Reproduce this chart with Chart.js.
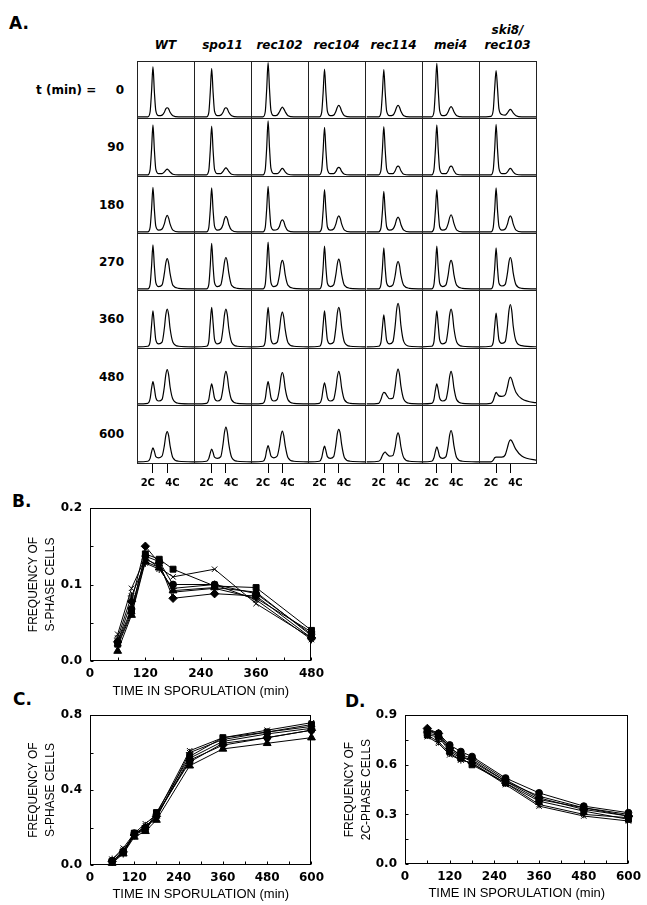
<!DOCTYPE html>
<html>
<head>
<meta charset="utf-8">
<title>DNA content profiles during sporulation</title>
<script src="https://cdn.jsdelivr.net/npm/chart.js@4.4.1/dist/chart.umd.min.js"></script>
<style>
html,body{margin:0;padding:0;background:#fff;}
body{position:relative;width:647px;height:905px;overflow:hidden;font-family:"DejaVu Sans",sans-serif;color:#000;}
canvas{position:absolute;}
.t{position:absolute;white-space:pre;}
.panel{font:bold 17px/20px "DejaVu Sans";}
.hdr{font:italic bold 12px/15px "DejaVu Sans";text-align:center;width:90px;}
.rowlab{font:bold 12px/14px "DejaVu Sans";text-align:right;width:60px;}
.gl{position:absolute;background:#222;}
</style>
</head>
<body>
<script>
// ---------------- DATA ----------------
const STRAINS = ['WT','spo11','rec102','rec104','rec114','mei4','ski8/rec103'];
const TIMES_A = [0,90,180,270,360,480,600];
const CC_LABELS = ['2C','4C'];
// channel (0-100 across a cell) of the 2C peak for each strain; 4C peak sits PEAK_GAP further
const PEAK_2C = [28,31,30,29,33,26,30];
const PEAK_GAP = 25;
// sample channels relative to the 2C peak
const CHANNEL_OFFSETS = [-30,-9,-5,-2.5,0,2.5,5,10,16,20,22.5,25,27.5,30,35,45,75];

// cell counts (% of cell height) per strain, one array per time point
const HIST_T0 = [
  [2,2,11,46,90,46,13,4,5,10,16,18,16,10,4,2,2],
  [2,2,10,45,87,45,12,4,5,10,16,18,16,10,4,2,2],
  [2,2,11,50,97,50,13,4,5,11,16,19,16,11,4,2,2],
  [2,2,10,44,86,44,12,4,5,12,19,22,19,12,4,2,2],
  [2,2,10,44,85,44,12,4,5,12,19,22,19,12,4,2,2],
  [2,2,11,49,96,49,13,4,5,11,17,20,17,11,4,2,2],
  [2,3,14,52,83,52,16,6,5,9,13,15,13,9,4,2,2]
];
const HIST_T90 = [
  [2,2,11,45,88,45,12,4,4,7,10,12,10,7,3,2,2],
  [2,2,10,44,86,44,12,4,4,8,12,14,12,8,3,2,2],
  [2,2,11,48,95,48,13,4,4,7,11,13,11,7,3,2,2],
  [2,2,10,43,84,43,12,4,4,8,13,15,13,8,3,2,2],
  [2,2,10,44,85,44,12,4,4,9,15,17,15,9,3,2,2],
  [2,2,11,45,88,45,12,4,4,9,15,17,15,9,3,2,2],
  [2,2,11,46,89,46,13,4,4,7,11,13,11,7,3,2,2]
];
const HIST_T180 = [
  [2,2,10,41,80,41,12,5,7,16,26,31,26,16,5,2,2],
  [2,2,10,40,79,40,12,5,7,15,25,29,25,15,5,2,2],
  [2,2,10,42,82,42,12,5,6,12,20,23,20,12,4,2,2],
  [2,2,9,39,76,39,11,5,7,16,26,30,26,16,5,2,2],
  [2,2,9,37,73,37,11,5,7,15,24,28,24,15,5,2,2],
  [2,2,9,39,76,39,11,5,7,17,27,32,27,17,5,2,2],
  [2,2,10,40,79,40,12,5,7,16,26,30,26,16,5,2,2]
];
const HIST_T270 = [
  [2,2,10,41,79,41,13,6,9,29,47,55,47,29,8,3,2],
  [2,2,10,42,82,42,13,6,9,30,49,57,49,30,8,3,2],
  [2,2,10,43,84,43,13,6,9,27,45,52,45,27,8,3,2],
  [2,2,10,39,77,39,12,6,9,28,46,54,46,28,8,3,2],
  [2,2,10,38,74,38,12,6,9,26,43,50,43,26,8,3,2],
  [2,2,10,39,77,39,12,6,9,27,45,52,45,27,8,3,2],
  [2,2,10,38,74,38,12,7,10,30,49,57,49,30,9,3,2]
];
const HIST_T360 = [
  [2,3,11,39,64,39,14,7,10,34,57,67,57,34,10,3,2],
  [2,3,12,43,70,43,15,7,10,34,57,67,57,34,10,3,2],
  [2,3,12,43,70,43,15,7,10,32,53,62,53,32,9,3,2],
  [2,3,11,39,64,39,14,7,10,36,60,70,60,36,10,3,2],
  [2,3,10,35,57,35,13,7,11,39,66,77,66,39,11,3,2],
  [2,3,11,39,64,39,14,7,10,34,57,67,57,34,10,3,2],
  [2,3,10,37,60,37,14,8,11,38,64,75,64,38,12,4,2]
];
const HIST_T480 = [
  [2,3,11,29,41,29,13,7,10,32,53,62,53,32,10,3,2],
  [2,3,10,26,37,26,12,7,10,30,50,59,50,30,9,3,2],
  [2,3,11,29,41,29,13,7,10,29,49,57,49,29,9,3,2],
  [2,3,11,28,39,28,13,7,10,30,50,59,50,30,9,3,2],
  [2,3,10,18,22,21,17,11,12,33,54,63,54,33,10,3,2],
  [2,3,10,26,37,26,12,7,10,30,50,59,50,30,9,3,2],
  [2,3,8,16,22,19,16,15,18,32,44,49,45,36,22,11,3]
];
const HIST_T600 = [
  [2,3,8,19,26,20,11,9,12,30,47,54,47,30,9,3,2],
  [2,3,8,17,24,18,10,8,11,33,53,62,53,33,10,3,2],
  [2,3,9,22,30,22,12,9,12,30,47,55,47,30,9,3,2],
  [2,3,9,21,29,21,11,8,11,32,51,58,51,32,9,3,2],
  [2,3,7,13,17,19,16,12,13,28,45,52,45,28,9,3,2],
  [2,3,9,20,28,21,11,8,11,30,48,56,48,30,9,3,2],
  [2,2,5,9,10,10,10,10,14,27,36,40,38,33,23,12,4]
];
const HIST = [HIST_T0,HIST_T90,HIST_T180,HIST_T270,HIST_T360,HIST_T480,HIST_T600];

// Panel B: frequency of S-phase cells
const TIME_B = [60,90,120,150,180,270,360,480];
const B_WT     = [0.025,0.078,0.150,0.128,0.082,0.088,0.085,0.030];
const B_SPO11  = [0.022,0.065,0.140,0.133,0.120,0.098,0.096,0.040];
const B_REC102 = [0.013,0.060,0.130,0.122,0.092,0.096,0.090,0.033];
const B_REC104 = [0.035,0.095,0.135,0.122,0.110,0.120,0.075,0.030];
const B_REC114 = [0.030,0.085,0.128,0.120,0.095,0.100,0.080,0.028];
const B_MEI4   = [0.025,0.068,0.137,0.130,0.100,0.100,0.088,0.035];
const B_SKI8   = [0.020,0.062,0.133,0.125,0.090,0.095,0.082,0.038];

// Panels C and D
const TIME_CD = [60,90,120,150,180,270,360,480,600];
const C_WT     = [0.02,0.07,0.16,0.20,0.26,0.56,0.64,0.68,0.72];
const C_SPO11  = [0.02,0.07,0.17,0.19,0.28,0.58,0.68,0.71,0.75];
const C_REC102 = [0.01,0.06,0.15,0.18,0.24,0.53,0.62,0.65,0.68];
const C_REC104 = [0.03,0.09,0.17,0.22,0.27,0.61,0.68,0.72,0.76];
const C_REC114 = [0.03,0.08,0.16,0.21,0.25,0.60,0.67,0.71,0.74];
const C_MEI4   = [0.02,0.07,0.17,0.20,0.27,0.55,0.65,0.68,0.72];
const C_SKI8   = [0.02,0.06,0.16,0.19,0.26,0.57,0.66,0.70,0.73];

const D_WT     = [0.82,0.79,0.70,0.66,0.64,0.51,0.40,0.33,0.29];
const D_SPO11  = [0.78,0.77,0.68,0.64,0.60,0.49,0.38,0.32,0.27];
const D_REC102 = [0.81,0.78,0.71,0.65,0.62,0.50,0.39,0.34,0.30];
const D_REC104 = [0.77,0.73,0.66,0.63,0.61,0.48,0.35,0.29,0.26];
const D_REC114 = [0.78,0.74,0.67,0.63,0.61,0.49,0.36,0.30,0.28];
const D_MEI4   = [0.81,0.79,0.72,0.68,0.65,0.52,0.43,0.35,0.31];
const D_SKI8   = [0.79,0.78,0.69,0.65,0.63,0.50,0.41,0.34,0.29];

const X_TITLE = 'TIME IN SPORULATION (min)';
const Y_TITLE_B = ['FREQUENCY OF','S-PHASE CELLS'];
const Y_TITLE_C = ['FREQUENCY OF','S-PHASE CELLS'];
const Y_TITLE_D = ['FREQUENCY OF','2C-PHASE CELLS'];

// ---------------- STYLE / LAYOUT ----------------
const MARKERS = ['rectRot','rect','triangle','crossRot','star','circle','cross'];
const MARKER_R = [4.2,4.2,4.5,3.8,3.8,3.4,3.8];
const COL_EDGES = [137,194,251,308,365,422,479,536];
const ROW_EDGES = [61,118,176,233,290,348,405,463];

Chart.defaults.font.family = '"DejaVu Sans", sans-serif';
Chart.defaults.color = '#000';

function addText(cls, txt, left, top){
  const d = document.createElement('div');
  d.className = 't ' + cls; d.textContent = txt;
  d.style.left = left + 'px'; d.style.top = top + 'px';
  document.body.appendChild(d); return d;
}
function addCanvas(left, top, w, h){
  const c = document.createElement('canvas');
  c.width = w; c.height = h;
  c.style.left = left + 'px'; c.style.top = top + 'px';
  c.style.width = w + 'px'; c.style.height = h + 'px';
  document.body.appendChild(c); return c;
}

// panel letters
addText('panel','A.',9,13);
addText('panel','B.',12,491);
addText('panel','C.',13,689);
addText('panel','D.',345,691);

// column headers
STRAINS.forEach((s,i)=>{
  const cx = (COL_EDGES[i]+COL_EDGES[i+1])/2;
  const parts = s.split('/');
  const txt = parts.length>1 ? parts[0]+'/\n'+parts[1] : s;
  addText('hdr', txt, cx-45, parts.length>1 ? 23 : 38);
});
// row labels
TIMES_A.forEach((t,r)=>{
  const cy = (ROW_EDGES[r]+ROW_EDGES[r+1])/2;
  addText('rowlab', String(t), 64, cy-7);
});
addText('rowlab','t (min) =', 36, (ROW_EDGES[0]+ROW_EDGES[1])/2-7).style.textAlign='left';

// plugin: 2C/4C labels under the bottom row
const ccPlugin = {
  id:'ccLabels',
  afterDraw(chart, args, opts){
    if(!opts || !opts.on) return;
    const x = chart.scales.x, ctx = chart.ctx;
    const y = chart.chartArea.bottom + 20;
    ctx.save();
    ctx.font = 'bold 10px "DejaVu Sans"'; ctx.fillStyle = '#000'; ctx.textBaseline = 'middle';
    ctx.textAlign = 'right'; ctx.fillText(CC_LABELS[0], x.getPixelForValue(x.ticks[0].value)+2, y);
    ctx.textAlign = 'left';  ctx.fillText(CC_LABELS[1], x.getPixelForValue(x.ticks[1].value)-2, y);
    ctx.restore();
  }
};

// histograms
HIST.forEach((row,r)=>{
  row.forEach((vals,c)=>{
    const bottom = r === HIST.length-1;
    const w = COL_EDGES[c+1]-COL_EDGES[c];
    const h = ROW_EDGES[r+1]-ROW_EDGES[r] + (bottom ? 30 : 0);
    const cv = addCanvas(COL_EDGES[c], ROW_EDGES[r], w, h);
    const p2 = PEAK_2C[c];
    const pts = CHANNEL_OFFSETS.map((o,k)=>({x:p2+o, y:vals[k]}));
    const xScale = bottom ? {
        type:'linear', min:0, max:100, display:true, position:'bottom',
        afterBuildTicks(s){ s.ticks = [{value:p2},{value:p2+PEAK_GAP}]; },
        afterFit(s){ s.height = 30; },
        ticks:{display:false},
        grid:{display:true, drawOnChartArea:false, drawTicks:true, tickLength:10, color:'#000', lineWidth:1},
        border:{display:false}
      } : {type:'linear', min:0, max:100, display:false};
    new Chart(cv, {
      type:'line',
      data:{datasets:[{data:pts, borderColor:'#000', borderWidth:1.2, pointRadius:0, fill:false, cubicInterpolationMode:'monotone'}]},
      options:{
        animation:false, responsive:false, events:[],
        layout:{padding:0},
        plugins:{legend:{display:false}, tooltip:{enabled:false}, ccLabels:{on:bottom}},
        scales:{ x:xScale, y:{min:0, max:100, display:false} }
      },
      plugins:[ccPlugin]
    });
  });
});

// grid lines over the histograms
COL_EDGES.forEach(x=>{
  const d=document.createElement('div'); d.className='gl';
  d.style.cssText += `left:${x}px;top:${ROW_EDGES[0]}px;width:1px;height:${ROW_EDGES[7]-ROW_EDGES[0]+1}px;`;
  document.body.appendChild(d);
});
ROW_EDGES.forEach(y=>{
  const d=document.createElement('div'); d.className='gl';
  d.style.cssText += `left:${COL_EDGES[0]}px;top:${y}px;width:${COL_EDGES[7]-COL_EDGES[0]+1}px;height:1px;`;
  document.body.appendChild(d);
});

// plugin: frame + inside tick marks
const framePlugin = {
  id:'frame',
  beforeDatasetsDraw(chart){
    const {ctx, chartArea:a} = chart; const {x, y} = chart.scales;
    ctx.save(); ctx.strokeStyle='#000'; ctx.lineWidth=1;
    const L=Math.round(a.left)+0.5, R=Math.round(a.right)-0.5, T=Math.round(a.top)+0.5, B=Math.round(a.bottom)-0.5;
    ctx.strokeRect(L,T,R-L,B-T);
    ctx.beginPath();
    x.ticks.forEach(t=>{const p=Math.round(x.getPixelForValue(t.value))+0.5; ctx.moveTo(p,B); ctx.lineTo(p,B-3);});
    y.ticks.forEach(t=>{const p=Math.round(y.getPixelForValue(t.value))+0.5; ctx.moveTo(L,p); ctx.lineTo(L+3,p);});
    ctx.stroke(); ctx.restore();
  }
};

function isMajor(v, step){ return Math.abs(v/step - Math.round(v/step)) < 1e-6; }

function linePanel(cfg){
  const cv = addCanvas(cfg.left, cfg.top, cfg.w, cfg.h);
  const datasets = cfg.values.map((vals,i)=>({
    label: STRAINS[i],
    data: cfg.times.map((t,j)=>({x:t, y:vals[j]})),
    borderColor:'#000', borderWidth:1, backgroundColor:'#000',
    pointStyle: MARKERS[i], pointRadius: MARKER_R[i],
    pointBackgroundColor:'#000', pointBorderColor:'#000', pointBorderWidth:1,
    tension:0, clip:false, fill:false
  }));
  new Chart(cv, {
    type:'line',
    data:{datasets},
    options:{
      animation:false, responsive:false, events:[],
      layout:{padding:{top:cfg.pt, right:cfg.pr, left:0, bottom:0}},
      plugins:{legend:{display:false}, tooltip:{enabled:false}},
      scales:{
        x:{type:'linear', min:0, max:cfg.xmax,
           afterFit(s){ s.height = cfg.xh; },
           grid:{display:false, drawTicks:false}, border:{display:false},
           ticks:{stepSize:60, autoSkip:false, maxRotation:0, padding:6, color:'#000',
                  font:{family:'"DejaVu Sans"', weight:'bold', size:12},
                  callback:v=> (v%120===0 ? String(v) : '')},
           title:{display:true, text:X_TITLE, color:'#000',
                  font:{family:'"Liberation Sans"', size:13, lineHeight:1.2},
                  padding:{top:0, bottom:cfg.tb}}},
        y:{min:0, max:cfg.ymax,
           afterFit(s){ s.width = 90; },
           grid:{display:false, drawTicks:false}, border:{display:false},
           ticks:{stepSize:cfg.ystep, autoSkip:false, padding:8, color:'#000',
                  font:{family:'"DejaVu Sans"', weight:'bold', size:12},
                  callback:v=> (isMajor(v, cfg.ymajor) ? v.toFixed(1) : '')},
           title:{display:true, text:cfg.ytitle, color:'#000',
                  font:{family:'"Liberation Sans"', size:12, lineHeight:1.35},
                  padding:{top:cfg.yt, bottom:0}}}
      }
    },
    plugins:[framePlugin]
  });
}

linePanel({left:0, top:490, w:330, h:215, pt:18, pr:15, xh:44, tb:6, yt:26,
  xmax:480, ymax:0.2, ystep:0.05, ymajor:0.1, ytitle:Y_TITLE_B, times:TIME_B,
  values:[B_WT,B_SPO11,B_REC102,B_REC104,B_REC114,B_MEI4,B_SKI8]});
linePanel({left:0, top:700, w:330, h:205, pt:13, pr:16, xh:40, tb:3, yt:26,
  xmax:600, ymax:0.8, ystep:0.2, ymajor:0.4, ytitle:Y_TITLE_C, times:TIME_CD,
  values:[C_WT,C_SPO11,C_REC102,C_REC104,C_REC114,C_MEI4,C_SKI8]});
linePanel({left:315, top:700, w:332, h:205, pt:12, pr:16, xh:41, tb:4, yt:27,
  xmax:600, ymax:0.9, ystep:0.15, ymajor:0.3, ytitle:Y_TITLE_D, times:TIME_CD,
  values:[D_WT,D_SPO11,D_REC102,D_REC104,D_REC114,D_MEI4,D_SKI8]});
</script>
</body>
</html>
